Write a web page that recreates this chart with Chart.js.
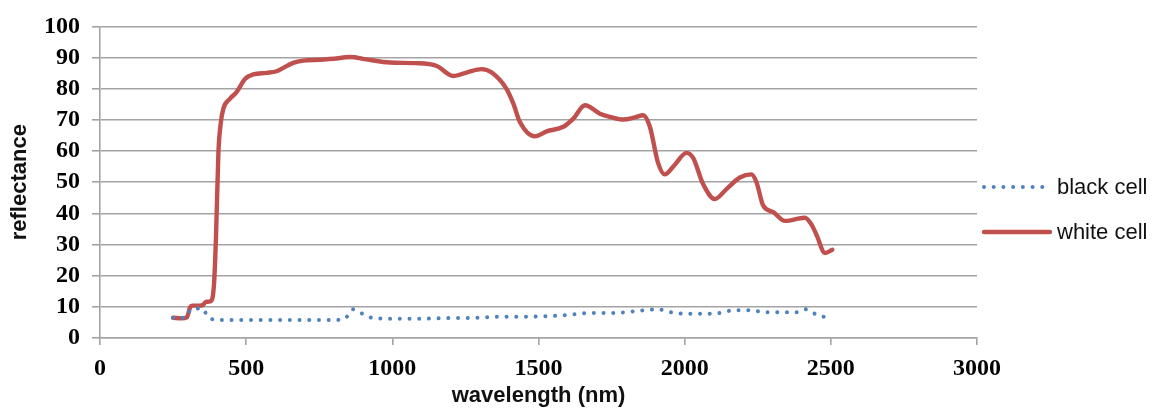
<!DOCTYPE html>
<html>
<head>
<meta charset="utf-8">
<script src="https://cdn.jsdelivr.net/npm/chart.js@4/dist/chart.umd.min.js"></script>
<style>
  html, body { margin: 0; padding: 0; background: #ffffff; }
  #wrap { width: 1157px; height: 409px; position: relative; }
</style>
</head>
<body>
<div id="wrap"><canvas id="c" width="1157" height="409"></canvas></div>
<script>
// ---- data ----
const seriesNames = ["black cell", "white cell"];

const blackWavelength = [250, 290, 312, 325, 350, 365, 380, 400, 500, 600, 700, 800, 835, 850, 865, 880, 895, 925, 950, 1000, 1100, 1200, 1300, 1350, 1450, 1550, 1600, 1680, 1750, 1850, 1910, 1950, 2000, 2100, 2170, 2230, 2270, 2390, 2415, 2445, 2475, 2500];
const blackReflectance = [6.5, 6.5, 9.2, 9.4, 9.5, 7.5, 6.2, 5.8, 5.8, 5.8, 5.8, 5.8, 6.0, 7.5, 9.2, 8.5, 7.9, 6.6, 6.3, 6.2, 6.2, 6.4, 6.5, 6.8, 6.8, 7.1, 7.4, 8.0, 8.0, 8.8, 9.2, 8.3, 7.8, 7.8, 8.9, 8.9, 8.3, 8.3, 9.2, 7.8, 6.8, 7.3];

const whiteWavelength = [250, 280, 297, 308, 315, 340, 352, 362, 378, 390, 397, 405, 413, 422, 445, 467, 496, 524, 570, 604, 627, 661, 695, 750, 800, 855, 912, 992, 1080, 1152, 1208, 1254, 1305, 1340, 1391, 1414, 1436, 1488, 1528, 1585, 1620, 1659, 1710, 1744, 1790, 1830, 1858, 1881, 1909, 1932, 1967, 2006, 2029, 2063, 2103, 2143, 2189, 2228, 2246, 2268, 2303, 2343, 2411, 2434, 2451, 2480, 2505];
const whiteReflectance = [6.5, 6.3, 6.6, 9.8, 10.4, 10.4, 10.6, 11.6, 11.8, 17.3, 33, 59.4, 68.9, 73.6, 76.8, 78.9, 83.1, 84.6, 85.1, 85.6, 86.7, 88.3, 89.0, 89.3, 89.6, 90.2, 89.4, 88.4, 88.2, 87.3, 84.1, 85.2, 86.3, 85.2, 79.9, 75.2, 69.4, 64.7, 66.3, 67.8, 70.5, 74.7, 72.0, 71.0, 70.1, 70.8, 71.5, 67.8, 56.2, 52.5, 55.7, 59.4, 57.8, 49.4, 44.6, 47.8, 51.5, 52.5, 49.9, 42.6, 40.4, 37.6, 38.6, 36.4, 33.1, 27.3, 28.3];

const xAxisTitle = "wavelength (nm)";
const yAxisTitle = "reflectance";
const xMin = 0, xMax = 3000, xStep = 500;
const yMin = 0, yMax = 100, yStep = 10;

// ---- build chart ----
const toPoints = (xs, ys) => xs.map((x, i) => ({ x: x, y: ys[i] }));

const gridColor = "#a3a3a3";
const blueColor = "#4f81bd";
const redColor = "#c0504d";

const legendPlugin = {
  id: "sideLegend",
  afterDraw(chart) {
    const ctx = chart.ctx;
    const x0 = 984, x1 = 1050, tx = 1057;
    const ys = [187, 232];
    ctx.save();
    chart.data.datasets.forEach((ds, i) => {
      const y = ys[i];
      ctx.beginPath();
      ctx.strokeStyle = ds.borderColor;
      ctx.lineWidth = ds.borderWidth;
      ctx.lineCap = ds.borderCapStyle || "butt";
      ctx.setLineDash(ds.borderDash || []);
      ctx.moveTo(x0, y);
      ctx.lineTo(x1, y);
      ctx.stroke();
      ctx.setLineDash([]);
      ctx.fillStyle = "#111111";
      ctx.font = "22px 'Liberation Sans', Arial, sans-serif";
      ctx.textBaseline = "middle";
      ctx.textAlign = "left";
      ctx.fillText(ds.label, tx, y + 1);
    });
    ctx.restore();
  }
};

const tickFont = { family: "'Liberation Serif', 'Times New Roman', serif", size: 24, weight: "bold" };
const titleFont = { family: "'Liberation Sans', Arial, sans-serif", size: 22, weight: "bold" };

new Chart(document.getElementById("c"), {
  type: "line",
  data: {
    datasets: [
      {
        label: seriesNames[0],
        data: toPoints(blackWavelength, blackReflectance),
        borderColor: blueColor,
        backgroundColor: blueColor,
        borderWidth: 4,
        borderDash: [0.01, 9.7],
        borderCapStyle: "round",
        pointRadius: 0,
        cubicInterpolationMode: "monotone",
        fill: false
      },
      {
        label: seriesNames[1],
        data: toPoints(whiteWavelength, whiteReflectance),
        borderColor: redColor,
        backgroundColor: redColor,
        borderWidth: 4.4,
        borderCapStyle: "round",
        borderJoinStyle: "round",
        pointRadius: 0,
        cubicInterpolationMode: "monotone",
        fill: false
      }
    ]
  },
  options: {
    responsive: false,
    animation: false,
    devicePixelRatio: 1,
    layout: { padding: { top: 21.5, right: 180, bottom: 0, left: 0 } },
    plugins: {
      legend: { display: false },
      tooltip: { enabled: false },
      title: { display: false }
    },
    scales: {
      x: {
        type: "linear",
        min: xMin, max: xMax,
        afterFit(scale) { scale.height = 71; },
        ticks: {
          stepSize: xStep,
          autoSkip: false,
          color: "#000000",
          padding: 9,
          maxRotation: 0,
          font: tickFont,
          callback: (v) => String(v)
        },
        grid: { drawOnChartArea: false, drawTicks: true, tickLength: 7, color: gridColor, lineWidth: 1.6 },
        border: { display: true, color: gridColor, width: 1.6 },
        title: {
          display: true,
          text: xAxisTitle,
          color: "#111111",
          padding: { top: 0, bottom: 0 },
          font: titleFont
        }
      },
      y: {
        type: "linear",
        min: yMin, max: yMax,
        afterFit(scale) { scale.width = 100; },
        ticks: {
          stepSize: yStep,
          autoSkip: false,
          color: "#000000",
          padding: 12,
          font: tickFont,
          callback: (v) => String(v)
        },
        grid: { drawOnChartArea: true, drawTicks: true, tickLength: 8, color: gridColor, lineWidth: 1.6 },
        border: { display: true, color: gridColor, width: 1.6 },
        title: {
          display: true,
          text: yAxisTitle,
          color: "#111111",
          padding: { top: 7, bottom: 0 },
          font: titleFont
        }
      }
    }
  },
  plugins: [legendPlugin]
});
</script>
</body>
</html>
